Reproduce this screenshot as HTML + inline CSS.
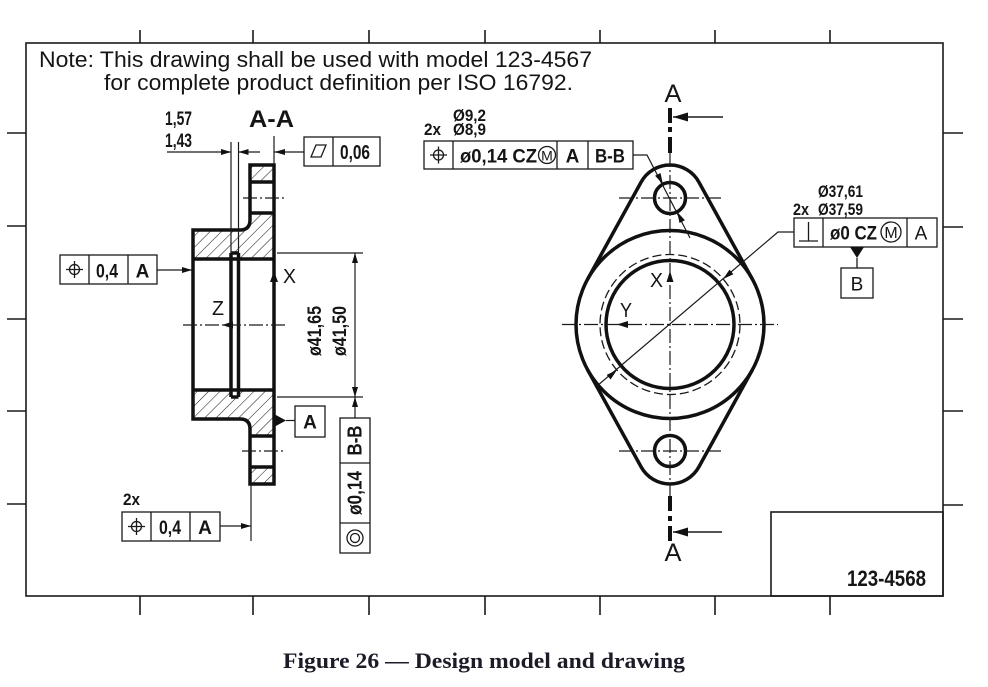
<!DOCTYPE html>
<html><head><meta charset="utf-8"><style>
html,body{margin:0;padding:0;background:#fff;}
svg{display:block;}
text{font-family:"Liberation Sans",sans-serif;fill:#151515;}
</style></head><body>
<svg width="988" height="687" viewBox="0 0 988 687" xmlns="http://www.w3.org/2000/svg">
<defs>
<pattern id="h" width="8" height="8" patternUnits="userSpaceOnUse" patternTransform="rotate(45)">
<line x1="0" y1="0" x2="0" y2="8" stroke="#222" stroke-width="1.1"/>
</pattern>
</defs>
<rect width="988" height="687" fill="#fff"/>

<!-- border -->
<g stroke="#1a1a1a" stroke-width="1.6" fill="none">
<rect x="26" y="43" width="917" height="553"/>
<path d="M140,30V43 M253,30V43 M369,30V43 M485,30V43 M600,30V43 M715,30V43 M830,30V43
M140,596V615 M253,596V615 M369,596V615 M485,596V615 M600,596V615 M715,596V615 M830,596V615
M7,133H26 M7,226H26 M7,319H26 M7,411H26 M7,504H26
M943,133H963 M943,227H963 M943,319H963 M943,411H963 M943,505H963"/>
<rect x="771" y="512" width="172" height="84"/>
</g>

<!-- note -->
<text x="39" y="67" font-size="22.5" textLength="553" lengthAdjust="spacingAndGlyphs">Note: This drawing shall be used with model 123-4567</text>
<text x="104" y="90" font-size="22.5" textLength="469" lengthAdjust="spacingAndGlyphs">for complete product definition per ISO 16792.</text>

<!-- title block number -->
<text x="847" y="586" font-size="22" font-weight="bold" textLength="79" lengthAdjust="spacingAndGlyphs">123-4568</text>

<!-- ===== Section A-A ===== -->
<text x="249" y="127" font-size="24" font-weight="bold" textLength="45" lengthAdjust="spacingAndGlyphs">A-A</text>
<text x="165" y="125" font-size="19" font-weight="bold" textLength="27" lengthAdjust="spacingAndGlyphs">1,57</text>
<text x="165" y="147" font-size="19" font-weight="bold" textLength="27" lengthAdjust="spacingAndGlyphs">1,43</text>

<!-- hatch -->
<g fill="url(#h)" stroke="none">
<path d="M250,165H274V182H250Z"/>
<path d="M193,230H240Q250,230 250,220V213H274V259H238.5V253H231V259H193Z"/>
<path d="M193,390H231V397H238.5V390H274V436H250V429Q250,419 240,419H193Z"/>
<path d="M250,467H274V484H250Z"/>
</g>
<!-- outline -->
<g stroke="#111" stroke-width="3.5" fill="none" stroke-linejoin="miter">
<path d="M250,165H274V484H250V429Q250,419 240,419H193V230H240Q250,230 250,220Z"/>
<path d="M250,182H274 M250,213H274 M193,259H274 M193,390H274 M250,436H274 M250,467H274"/>
<path d="M231,253V397 M238.5,253V397 M231,253H238.5 M231,397H238.5"/>
</g>
<!-- thin lines section -->
<g stroke="#1a1a1a" stroke-width="1.2" fill="none">
<path d="M231,142V253 M238.5,142V253 M274,136V165"/>
<path d="M167,152H231 M238.5,152H260 M274,152H304"/>
<path d="M157,270H192"/>
<path d="M220,526H251 M251,484V541"/>
<path d="M277,253H363 M277,397H363 M355,253V418"/>
<path d="M286,420.5H295"/>
</g>
<g stroke="#1a1a1a" stroke-width="1.2" fill="none" stroke-dasharray="14 3 2 3">
<path d="M243,198H285 M242,451H285 M183,325H285"/>
</g>
<!-- arrowheads section -->
<g fill="#111">
<polygon points="231,152 221,149 221,155"/>
<polygon points="238.5,152 248.5,149 248.5,155"/>
<polygon points="274.5,152 285,149 285,155"/>
<polygon points="192,270 182,267 182,273"/>
<polygon points="251,526 241,523 241,529"/>
<polygon points="274,271 270,282 278,282"/>
<polygon points="222,325 233,321.5 233,328.5"/>
<polygon points="355,253 352,263 358,263"/>
<polygon points="355,397 352,387 358,387"/>
<polygon points="355,397 352,407 358,407"/>
<polygon points="274,414 274,427 286,420.5"/>
</g>
<text x="283" y="283" font-size="20" textLength="13" lengthAdjust="spacingAndGlyphs">X</text>
<text x="212" y="315" font-size="20" textLength="12" lengthAdjust="spacingAndGlyphs">Z</text>

<!-- flatness frame -->
<g stroke="#1a1a1a" stroke-width="1.3" fill="none">
<rect x="304" y="137" width="76" height="29"/>
<path d="M333,137V166"/>
<polygon points="311,157 316,145 326,145 321,157"/>
</g>
<text x="340" y="159" font-size="20" font-weight="bold" textLength="30" lengthAdjust="spacingAndGlyphs">0,06</text>

<!-- left frames -->
<g stroke="#1a1a1a" stroke-width="1.3" fill="none">
<rect x="60" y="255" width="97" height="29"/>
<path d="M89,255V284 M128,255V284"/>
<circle cx="74.5" cy="269.5" r="5"/>
<path d="M66,269.5H83 M74.5,261V278"/>
<rect x="122" y="512" width="98" height="29"/>
<path d="M151,512V541 M190,512V541"/>
<circle cx="136.5" cy="526.5" r="5"/>
<path d="M128,526.5H145 M136.5,518V535"/>
</g>
<text x="96" y="277.5" font-size="19" font-weight="bold" textLength="22" lengthAdjust="spacingAndGlyphs">0,4</text>
<text x="142.5" y="277.5" font-size="19" font-weight="bold" text-anchor="middle">A</text>
<text x="123" y="505" font-size="17" font-weight="bold" textLength="17" lengthAdjust="spacingAndGlyphs">2x</text>
<text x="159" y="534" font-size="19" font-weight="bold" textLength="22" lengthAdjust="spacingAndGlyphs">0,4</text>
<text x="205" y="534" font-size="19" font-weight="bold" text-anchor="middle">A</text>

<!-- datum A box -->
<rect x="295" y="406" width="30" height="31" stroke="#1a1a1a" stroke-width="1.3" fill="none"/>
<text x="310" y="428.5" font-size="19" font-weight="bold" text-anchor="middle">A</text>

<!-- diameter texts rotated -->
<text x="315" y="337" font-size="19" font-weight="bold" text-anchor="middle" transform="rotate(-90 315 331)" textLength="50" lengthAdjust="spacingAndGlyphs">ø41,65</text>
<text x="340" y="337" font-size="19" font-weight="bold" text-anchor="middle" transform="rotate(-90 340 331)" textLength="50" lengthAdjust="spacingAndGlyphs">ø41,50</text>

<!-- B-B vertical frame -->
<g stroke="#1a1a1a" stroke-width="1.3" fill="none">
<rect x="340" y="418" width="30" height="135"/>
<path d="M340,463H370 M340,523H370"/>
<circle cx="355" cy="538" r="8"/>
<circle cx="355" cy="538" r="4.5"/>
</g>
<text x="355" y="447" font-size="20" font-weight="bold" text-anchor="middle" transform="rotate(-90 355 440.5)" textLength="30" lengthAdjust="spacingAndGlyphs">B-B</text>
<text x="355" y="499.5" font-size="20" font-weight="bold" text-anchor="middle" transform="rotate(-90 355 493)" textLength="44" lengthAdjust="spacingAndGlyphs">ø0,14</text>

<!-- ===== Right view ===== -->
<g stroke="#111" stroke-width="3.5" fill="none">
<circle cx="670" cy="324.5" r="94"/>
<circle cx="670" cy="324.5" r="64"/>
<circle cx="670" cy="198" r="15.5"/>
<circle cx="670" cy="451" r="15.5"/>
<path d="M587.6,279.2L641.1,182.1A33,33 0 0 1 698.9,182.1L752.4,279.2"/>
<path d="M752.4,369.8L698.9,466.9A33,33 0 0 1 641.1,466.9L587.6,369.8"/>
</g>
<circle cx="670" cy="324.5" r="70" stroke="#1a1a1a" stroke-width="1.3" fill="none" stroke-dasharray="9 4"/>
<g stroke="#1a1a1a" stroke-width="1.2" fill="none" stroke-dasharray="14 3 2 3">
<path d="M670,153V496 M619,198H722 M619,451H722 M562,324.5H778"/>
</g>
<!-- cutting plane -->
<g stroke="#111" stroke-width="4" fill="none">
<path d="M670,108V123 M670,127V132 M670,137V153 M670,496V511 M670,516V521 M670,526V541"/>
</g>
<g stroke="#1a1a1a" stroke-width="1.6" fill="none">
<path d="M673,117H723 M673,532H722"/>
</g>
<g stroke="#1a1a1a" stroke-width="1.2" fill="none">
<path d="M633,155H647L690,238"/>
<path d="M794,232H778L597,386"/>
</g>
<g fill="#111">
<polygon points="673,117 688,112.5 688,121.5"/>
<polygon points="673,532 688,527.5 688,536.5"/>
<polygon points="670,271 666.5,282 673.5,282"/>
<polygon points="617,324.5 628,321 628,328"/>
<polygon points="662.9,184.2 655.1,175.8 660.5,173"/>
<polygon points="677.1,211.8 679.5,223 684.9,220.2"/>
<polygon points="723.1,279 729.5,269.6 733.4,274.2"/>
<polygon points="616.9,370 610.6,379.5 606.7,374.9"/>
</g>
<text x="673" y="102" font-size="25" text-anchor="middle" textLength="17" lengthAdjust="spacingAndGlyphs">A</text>
<text x="673" y="561" font-size="25" text-anchor="middle" textLength="17" lengthAdjust="spacingAndGlyphs">A</text>
<text x="650" y="287" font-size="20" textLength="13" lengthAdjust="spacingAndGlyphs">X</text>
<text x="620" y="317" font-size="20" textLength="12" lengthAdjust="spacingAndGlyphs">Y</text>

<!-- top feature frame -->
<text x="424" y="135" font-size="17" font-weight="bold" textLength="17" lengthAdjust="spacingAndGlyphs">2x</text>
<text x="453" y="121" font-size="17" font-weight="bold" textLength="33" lengthAdjust="spacingAndGlyphs">Ø9,2</text>
<text x="453" y="135" font-size="17" font-weight="bold" textLength="33" lengthAdjust="spacingAndGlyphs">Ø8,9</text>
<g stroke="#1a1a1a" stroke-width="1.3" fill="none">
<rect x="424" y="141" width="209" height="28"/>
<path d="M453,141V169 M557,141V169 M588,141V169"/>
<circle cx="438.5" cy="155" r="5"/>
<path d="M430,155H447 M438.5,146.5V163.5"/>
<circle cx="547" cy="155" r="8.5"/>
</g>
<text x="460" y="162.5" font-size="19" font-weight="bold" textLength="77" lengthAdjust="spacingAndGlyphs">ø0,14 CZ</text>
<text x="547" y="160.5" font-size="14" text-anchor="middle">M</text>
<text x="572.5" y="162.5" font-size="19" font-weight="bold" text-anchor="middle">A</text>
<text x="610" y="162.5" font-size="19" font-weight="bold" text-anchor="middle" textLength="30" lengthAdjust="spacingAndGlyphs">B-B</text>

<!-- right feature frame -->
<text x="793" y="215" font-size="17" font-weight="bold" textLength="16" lengthAdjust="spacingAndGlyphs">2x</text>
<text x="818" y="197" font-size="17" font-weight="bold" textLength="45" lengthAdjust="spacingAndGlyphs">Ø37,61</text>
<text x="818" y="215" font-size="17" font-weight="bold" textLength="45" lengthAdjust="spacingAndGlyphs">Ø37,59</text>
<g stroke="#1a1a1a" stroke-width="1.3" fill="none">
<rect x="794" y="218" width="143" height="29"/>
<path d="M823,218V247 M907,218V247"/>
<path d="M799,241H818 M808.5,222V241"/>
<circle cx="891" cy="232" r="10"/>
<rect x="841" y="268" width="32" height="30"/>
<path d="M857,258V268"/>
</g>
<polygon points="850,247 864,247 857,258" fill="#111"/>
<text x="830" y="239.5" font-size="19" font-weight="bold" textLength="47" lengthAdjust="spacingAndGlyphs">ø0 CZ</text>
<text x="891" y="238" font-size="16" text-anchor="middle">M</text>
<text x="921" y="239.5" font-size="19" text-anchor="middle">A</text>
<text x="857" y="290.5" font-size="19" text-anchor="middle">B</text>

<!-- caption -->
<text x="283" y="668" font-size="22" font-weight="bold" style="font-family:'Liberation Serif',serif;fill:#1c1c28" textLength="402" lengthAdjust="spacingAndGlyphs">Figure 26 — Design model and drawing</text>
</svg>
</body></html>
